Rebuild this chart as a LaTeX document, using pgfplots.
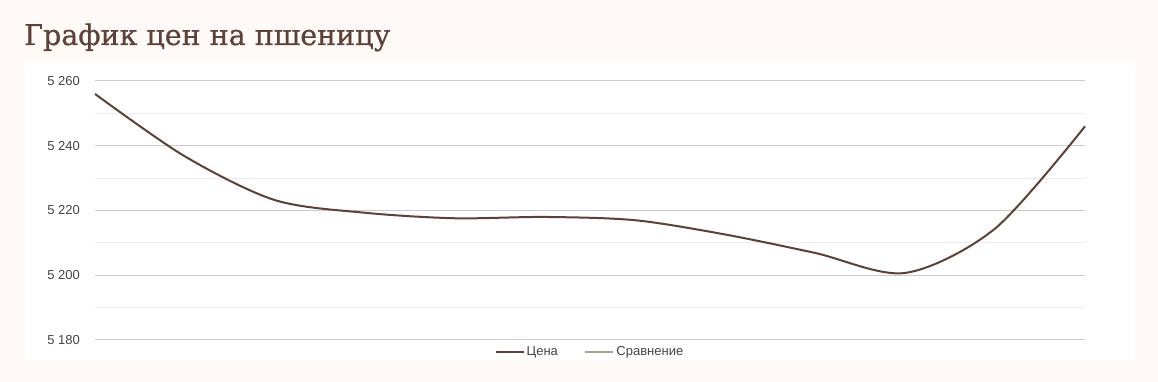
\documentclass[border=0pt]{standalone}
\usepackage{pgfplots}
\pgfplotsset{compat=1.18}
\usepackage{fontspec}
\setmainfont{Liberation Sans}
\newfontfamily\titlefont[FakeBold=0.6]{DejaVu Serif}
\definecolor{bgc}{HTML}{FFFAF7}
\definecolor{brownline}{HTML}{5D4037}
\definecolor{cmpline}{HTML}{A4A78F}
\definecolor{ticktext}{HTML}{444444}
\definecolor{majgrid}{HTML}{CCCCCC}
\definecolor{mingrid}{HTML}{EBEBEB}
\begin{document}
\begin{tikzpicture}[x=1pt,y=1pt]
\fill[bgc] (0,0) rectangle (1158,382);
\fill[white] (25,22) rectangle (1135,320);
\node[anchor=base west, inner sep=0pt, text=brownline, font=\titlefont\fontsize{28.5}{34}\selectfont] at (24,337) {График цен на пшеницу};
\begin{axis}[
  at={(95pt,42pt)}, anchor=south west,
  scale only axis, width=990pt, height=259pt,
  xmin=0, xmax=11, ymin=5180, ymax=5260,
  axis line style={draw=none},
  xtick=\empty,
  ytick={5180,5200,5220,5240,5260},
  yticklabels={5 180,5 200,5 220,5 240,5 260},
  minor ytick={5190,5210,5230,5250},
  ymajorgrids, yminorgrids,
  major grid style={majgrid, line width=1pt},
  minor grid style={mingrid, line width=1pt},
  major tick length=0pt, minor tick length=0pt,
  yticklabel style={font=\fontsize{13}{15}\selectfont, text=ticktext, anchor=east, inner sep=0pt, xshift=-15pt},
  legend columns=2,
  legend style={at={(0.5,-12pt)}, anchor=center, draw=none, fill=none, font=\fontsize{13}{15}\selectfont, text=ticktext, inner sep=0pt, /tikz/every even column/.append style={column sep=24pt}},
  legend image code/.code={\draw[#1] (0pt,0pt) -- (28pt,0pt);},
  clip=false,
]
\addplot[brownline, line width=2pt, smooth, tension=0.5] coordinates {
(0,5256.0) (1,5236.7) (2,5223.2) (3,5219.3) (4,5217.6) (5,5218.0)
(6,5217.0) (7,5212.6) (8,5206.9) (9,5200.7) (10,5214.4) (11,5246.0)
};
\addlegendentry{Цена}
\addlegendimage{cmpline, line width=2.5pt}
\addlegendentry{Сравнение}
\end{axis}
\end{tikzpicture}
\end{document}
